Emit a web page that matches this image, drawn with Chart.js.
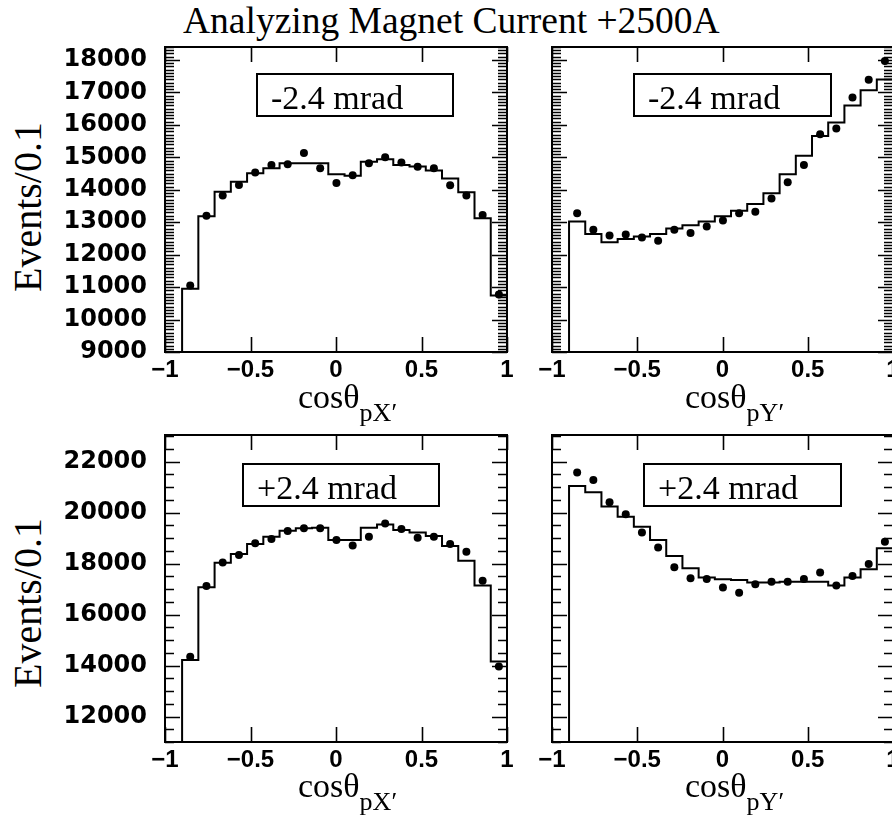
<!DOCTYPE html>
<html>
<head>
<meta charset="utf-8">
<title>Analyzing Magnet Current +2500A</title>
<script src="https://cdn.jsdelivr.net/npm/chart.js@4.4.1/dist/chart.umd.min.js"></script>
<style>
  body { margin: 0; background: #fff; overflow: hidden; }
  #wrap { position: relative; width: 892px; height: 817px; overflow: hidden; background: #fff;
          font-family: 'Liberation Serif', 'Times New Roman', serif; color: #000; }
  canvas { position: absolute; }
  .txt { position: absolute; white-space: nowrap; }
  .box { position: absolute; border: 2px solid #000; box-sizing: border-box; height: 44px;
         line-height: 46px; font-size: 34px; padding-left: 13px; white-space: nowrap; }
  .ytitle { position: absolute; font-size: 40px; line-height: 40px; width: 220px; text-align: center;
            transform: rotate(-90deg); white-space: nowrap; }
  .xtitle { position: absolute; font-size: 34px; line-height: 34px; white-space: nowrap; }
  .xtitle span { font-size: 26px; position: relative; top: 13px; }
</style>
</head>
<body>
<div id="wrap">
  <div class="txt" style="left:183px; top:2px; font-size:37.5px; line-height:37px;">Analyzing Magnet Current +2500A</div>
  <div class="ytitle" style="left:-82px; top:187px;">Events/0.1</div>
  <div class="ytitle" style="left:-82px; top:583px;">Events/0.1</div>

  <canvas id="tl" width="530" height="352" style="left:0px; top:40px;"></canvas>
  <canvas id="tr" width="400" height="352" style="left:520px; top:40px;"></canvas>
  <canvas id="bl" width="530" height="354" style="left:0px; top:428px;"></canvas>
  <canvas id="br" width="400" height="354" style="left:520px; top:428px;"></canvas>

  <div class="box" style="left:256px; top:73px; width:198px;">-2.4 mrad</div>
  <div class="box" style="left:633px; top:73px; width:199px;">-2.4 mrad</div>
  <div class="box" style="left:242px; top:463px; width:198px;">+2.4 mrad</div>
  <div class="box" style="left:643px; top:463px; width:199px;">+2.4 mrad</div>

  <div class="xtitle" style="left:298px; top:380px;">cosθ<span>pX′</span></div>
  <div class="xtitle" style="left:685px; top:380px;">cosθ<span>pY′</span></div>
  <div class="xtitle" style="left:298px; top:769px;">cosθ<span>pX′</span></div>
  <div class="xtitle" style="left:685px; top:769px;">cosθ<span>pY′</span></div>
</div>
<script>
// bin edges of the histograms (cos theta)
var binEdges = [-0.9, -0.805, -0.71, -0.615, -0.52, -0.425, -0.33, -0.235, -0.14, -0.045,
                0.05, 0.145, 0.24, 0.335, 0.43, 0.525, 0.62, 0.715, 0.81, 0.905, 1.0];
var xTicks = [-1, -0.5, 0, 0.5, 1];
var xTickLabels = ['\u22121', '\u22120.5', '0', '0.5', '1'];
var yTicksTop = [9000, 10000, 11000, 12000, 13000, 14000, 15000, 16000, 17000, 18000];
var yTicksBottom = [12000, 14000, 16000, 18000, 20000, 22000];

// -2.4 mrad, cos theta pX'
var tlHist = [10950, 13180, 13940, 14250, 14510, 14660, 14820, 14820, 14820, 14480,
              14430, 14860, 14940, 14760, 14720, 14590, 14350, 13920, 13120, 10740];
var tlData = [11050, 13200, 13820, 14150, 14530, 14760, 14790, 15130, 14660, 14210,
              14450, 14820, 15000, 14840, 14710, 14660, 14140, 13820, 13220, 10770];
// -2.4 mrad, cos theta pY'
var trHist = [13020, 12640, 12380, 12480, 12560, 12640, 12810, 12910, 13020, 13180,
              13350, 13560, 13890, 14480, 15050, 15660, 16070, 16600, 17070, 17400];
var trData = [13280, 12770, 12590, 12620, 12530, 12430, 12770, 12670, 12870, 13050,
              13280, 13320, 13730, 14230, 14760, 15710, 15890, 16840, 17390, 17970];
// +2.4 mrad, cos theta pX'
var blHist = [14220, 17070, 18040, 18380, 18770, 19060, 19290, 19390, 19410, 18930,
              18930, 19410, 19540, 19320, 19220, 19090, 18690, 18110, 17140, 14160];
var blData = [14350, 17120, 18050, 18340, 18800, 18970, 19280, 19390, 19390, 18930,
              18710, 19060, 19580, 19360, 19020, 19060, 18770, 18470, 17330, 13960];
// +2.4 mrad, cos theta pY'
var brHist = [21050, 20800, 20240, 19840, 19450, 18930, 18300, 17820, 17460, 17390,
              17360, 17260, 17260, 17290, 17290, 17290, 17140, 17460, 17780, 18600];
var brData = [21580, 21280, 20410, 19940, 19220, 18630, 17860, 17430, 17400, 17060,
              16860, 17190, 17290, 17290, 17400, 17650, 17140, 17520, 17990, 18860];

var binCenters = binEdges.slice(0, -1).map(function (e, i) { return (e + binEdges[i + 1]) / 2; });

function histPoints(vals, floor) {
    var pts = [{ x: binEdges[0], y: floor }];
    vals.forEach(function (v, i) { pts.push({ x: binEdges[i], y: v }); });
    pts.push({ x: binEdges[binEdges.length - 1], y: vals[vals.length - 1] });
    return pts;
}

// ROOT style frame with inward ticks on all four sides
var frameTicks = {
    id: 'frameTicks',
    afterDatasetsDraw: function (chart, args, opts) {
        var ctx = chart.ctx, a = chart.chartArea, x = chart.scales.x, y = chart.scales.y;
        ctx.save();
        ctx.strokeStyle = '#000';
        ctx.lineWidth = 1.6;
        ctx.beginPath();
        for (var v = opts.yStart; v <= y.max + 1e-6; v += opts.minor) {
            var py = Math.round(y.getPixelForValue(v)) + 0.5;
            var major = Math.abs(v / opts.major - Math.round(v / opts.major)) < 1e-6;
            var len = major ? 15 : 9;
            ctx.moveTo(a.left, py); ctx.lineTo(a.left + len, py);
            ctx.moveTo(a.right, py); ctx.lineTo(a.right - len, py);
        }
        xTicks.forEach(function (t) {
            var px = Math.round(x.getPixelForValue(t)) + 0.5;
            ctx.moveTo(px, a.top); ctx.lineTo(px, a.top + 15);
            ctx.moveTo(px, a.bottom); ctx.lineTo(px, a.bottom - 15);
        });
        ctx.stroke();
        ctx.lineWidth = 2;
        ctx.strokeRect(a.left, a.top, a.right - a.left, a.bottom - a.top);
        ctx.restore();
    }
};

function makePanel(id, hist, data, yMin, yMax, yTicks, minor, major, showY) {
    var ctx = document.getElementById(id).getContext('2d');
    return new Chart(ctx, {
        type: 'scatter',
        data: {
            datasets: [{
                label: 'data',
                data: binCenters.map(function (c, i) { return { x: c, y: data[i] }; }),
                pointRadius: 4,
                pointBackgroundColor: '#000',
                pointBorderColor: '#000',
                pointBorderWidth: 0,
                showLine: false
            }, {
                label: 'MC',
                data: histPoints(hist, yMin - 5000),
                showLine: true,
                stepped: 'before',
                borderColor: '#000',
                borderWidth: 2,
                pointRadius: 0,
                fill: false
            }]
        },
        options: {
            responsive: false,
            animation: false,
            layout: { padding: { top: 7, right: showY ? 23 : 27, left: 0, bottom: 0 } },
            plugins: {
                legend: { display: false },
                tooltip: { enabled: false },
                frameTicks: { yStart: yMin, minor: minor, major: major }
            },
            scales: {
                x: {
                    type: 'linear',
                    min: -1,
                    max: 1,
                    grid: { display: false, drawTicks: false },
                    border: { display: false },
                    afterBuildTicks: function (s) { s.ticks = xTicks.map(function (v) { return { value: v }; }); },
                    afterFit: function (s) { s.height = 40; s.paddingLeft = 0; s.paddingRight = 0; },
                    ticks: {
                        padding: 4,
                        color: '#000',
                        maxRotation: 0,
                        autoSkip: false,
                        font: { family: 'Liberation Sans', weight: 'bold', size: 24 },
                        callback: function (v) { return xTickLabels[xTicks.indexOf(v)]; }
                    }
                },
                y: {
                    type: 'linear',
                    min: yMin,
                    max: yMax,
                    grid: { display: false, drawTicks: false },
                    border: { display: false },
                    afterBuildTicks: function (s) { s.ticks = yTicks.map(function (v) { return { value: v }; }); },
                    afterFit: function (s) { s.width = showY ? 165 : 32; s.paddingTop = 0; s.paddingBottom = 0; },
                    ticks: {
                        display: showY,
                        padding: 18,
                        color: '#000',
                        autoSkip: false,
                        font: { family: 'DejaVu Sans', weight: 'bold', size: 24 },
                        callback: function (v) { return String(v); }
                    }
                }
            }
        },
        plugins: [frameTicks]
    });
}

makePanel('tl', tlHist, tlData, 9000, 18400, yTicksTop, 100, 1000, true);
makePanel('tr', trHist, trData, 9000, 18400, yTicksTop, 100, 1000, false);
makePanel('bl', blHist, blData, 11000, 23050, yTicksBottom, 500, 2000, true);
makePanel('br', brHist, brData, 11000, 23050, yTicksBottom, 500, 2000, false);
</script>
</body>
</html>
